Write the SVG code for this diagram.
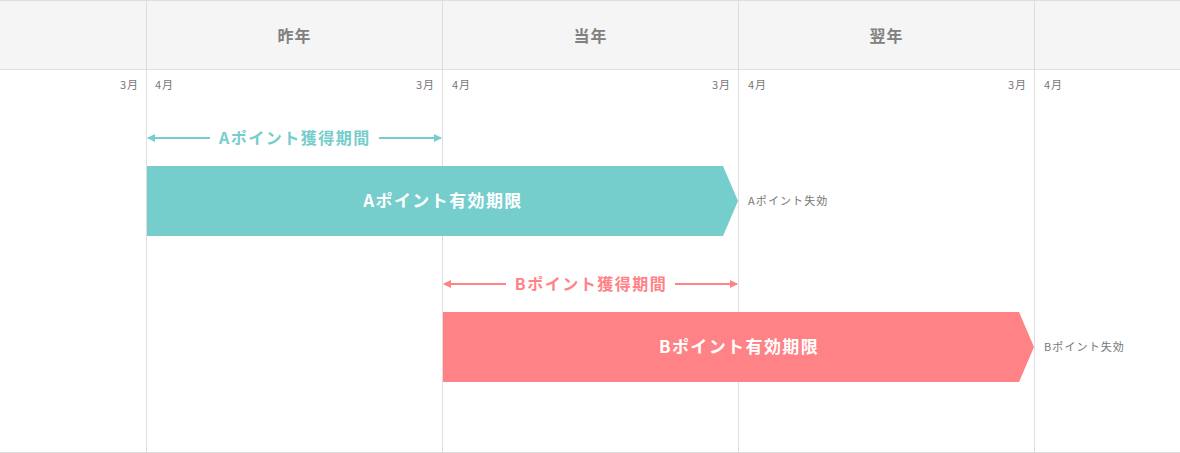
<svg xmlns="http://www.w3.org/2000/svg" width="1180" height="453" viewBox="0 0 1180 453">
<defs>
<style>
.grid{stroke:#dedede;stroke-width:1;fill:none}
.hd{font-family:"Noto Sans CJK JP","Noto Sans",sans-serif;font-size:16px;font-weight:bold;fill:#808080;text-anchor:middle;letter-spacing:1px}
.mo{font-family:"Noto Sans CJK JP","Noto Sans",sans-serif;font-size:11px;fill:#777;letter-spacing:0.8px}
.mr{text-anchor:end}
.bar{font-family:"Noto Sans CJK JP","Noto Sans",sans-serif;font-size:17px;font-weight:bold;fill:#fff;text-anchor:middle;letter-spacing:1.4px}
.per{font-family:"Noto Sans CJK JP","Noto Sans",sans-serif;font-size:16px;font-weight:bold;text-anchor:middle;letter-spacing:1.5px}
.exp{font-family:"Noto Sans CJK JP","Noto Sans",sans-serif;font-size:11px;fill:#777;letter-spacing:1.1px}
</style>
<marker id="ha" viewBox="0 0 8 8" refX="7" refY="4" markerWidth="8" markerHeight="8" markerUnits="userSpaceOnUse" orient="auto-start-reverse"><path d="M0,0L8,4L0,8z" fill="#75cdcc"/></marker>
<marker id="hb" viewBox="0 0 8 8" refX="7" refY="4" markerWidth="8" markerHeight="8" markerUnits="userSpaceOnUse" orient="auto-start-reverse"><path d="M0,0L8,4L0,8z" fill="#ff8286"/></marker>
</defs>
<rect x="0" y="0" width="1180" height="453" fill="#fff"/>
<g id="grid">
<rect x="0" y="0" width="1180" height="69" fill="#f5f5f5"/>
<line class="grid" x1="0" y1="0.5" x2="1180" y2="0.5"/>
<line class="grid" x1="0" y1="69.5" x2="1180" y2="69.5"/>
<line class="grid" x1="0" y1="452.5" x2="1180" y2="452.5"/>
<line class="grid" x1="146.5" y1="0" x2="146.5" y2="452"/>
<line class="grid" x1="442.5" y1="0" x2="442.5" y2="452"/>
<line class="grid" x1="738.5" y1="0" x2="738.5" y2="452"/>
<line class="grid" x1="1034.5" y1="0" x2="1034.5" y2="452"/>
</g>
<g id="headers">
<text class="hd" x="294.5" y="42">昨年</text>
<text class="hd" x="590.5" y="42">当年</text>
<text class="hd" x="886.5" y="42">翌年</text>
</g>
<g id="months">
<text class="mo mr" x="138.8" y="89">3月</text>
<text class="mo" x="155" y="89">4月</text>
<text class="mo mr" x="434.8" y="89">3月</text>
<text class="mo" x="452" y="89">4月</text>
<text class="mo mr" x="730.8" y="89">3月</text>
<text class="mo" x="748" y="89">4月</text>
<text class="mo mr" x="1026.8" y="89">3月</text>
<text class="mo" x="1044" y="89">4月</text>
</g>
<g id="connectors">
<line x1="148" y1="138" x2="210" y2="138" stroke="#75cdcc" stroke-width="2" marker-start="url(#ha)"/>
<line x1="379" y1="138" x2="441" y2="138" stroke="#75cdcc" stroke-width="2" marker-end="url(#ha)"/>
<line x1="444" y1="284" x2="506" y2="284" stroke="#ff8286" stroke-width="2" marker-start="url(#hb)"/>
<line x1="675" y1="284" x2="737" y2="284" stroke="#ff8286" stroke-width="2" marker-end="url(#hb)"/>
</g>
<g id="a-period">
<text class="per" x="295" y="144" fill="#75cdcc">Aポイント獲得期間</text>
</g>
<g id="a-valid">
<polygon points="147,166 723,166 738,201 723,236 147,236" fill="#75cdcc"/>
<text class="bar" x="443" y="207">Aポイント有効期限</text>
</g>
<g id="a-expire">
<text class="exp" x="748" y="205">Aポイント失効</text>
</g>
<g id="b-period">
<text class="per" x="591" y="290" fill="#ff8286">Bポイント獲得期間</text>
</g>
<g id="b-valid">
<polygon points="443,312 1019,312 1034,347 1019,382 443,382" fill="#ff8286"/>
<text class="bar" x="739" y="353">Bポイント有効期限</text>
</g>
<g id="b-expire">
<text class="exp" x="1044" y="351">Bポイント失効</text>
</g>
</svg>
